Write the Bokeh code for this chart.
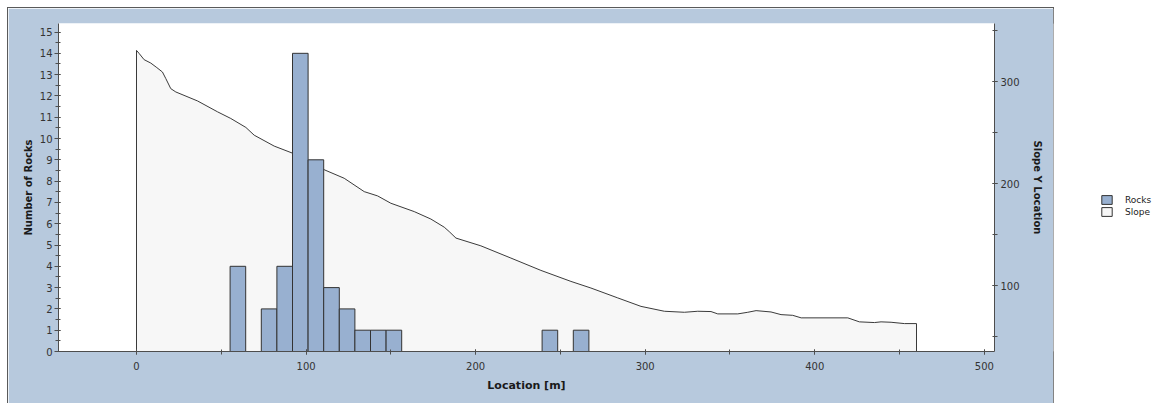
from bokeh.plotting import figure
from bokeh.models import Range1d, LinearAxis, SingleIntervalTicker, Legend, LegendItem, Spacer
from bokeh.layouts import row, column
from bokeh.embed import file_html
from bokeh.resources import INLINE

# ---- data ----
slope_x = [0, 1.5, 4.5, 8.4, 12, 15.3, 17.3, 20.2, 23.2, 36, 47.8, 55.6, 64.5, 69.4, 81.2, 92.4,
           111.1, 122.5, 134.3, 142.2, 150, 163.8, 173.6, 181.5, 184.4, 188.4, 203.1, 220.8, 238.5,
           256.2, 268, 283.8, 297.5, 311.3, 323.1, 331, 338.8, 342.8, 354.6, 360.5, 365.4, 374.2,
           380.1, 387, 392, 419.5, 426.3, 435.2, 439.1, 445, 452.9, 460]
slope_y = [330.9, 328, 321.8, 318.5, 314, 309.7, 303.2, 293.4, 290.1, 281.3, 270.6, 264.1, 255.3, 247.7,
           237, 229.8, 213.5, 205.4, 192.3, 188.1, 180.9, 172.7, 165.4, 157.4, 153.1, 146.7, 139.1, 127.1,
           115, 104.2, 97.7, 88, 79.7, 74.9, 73.9, 74.9, 74.6, 72.3, 72.3, 73.9, 75.5, 74.2,
           71.6, 70.9, 68.4, 68.4, 64.5, 63.8, 64.5, 64.1, 62.8, 62.8]

bin_width = 9.2
bin_left = [55.2, 73.6, 82.8, 92.0, 101.2, 110.4, 119.6, 128.8, 138.0, 147.2, 239.2, 257.6]
rock_counts = [4, 2, 4, 14, 9, 3, 2, 1, 1, 1, 1, 1]

x_lo, x_hi = -46, 506
count_lo, count_hi = 0, 15.4
slope_lo, slope_hi = 35.4, 357.3

# ---- style ----
PANEL = "#b7c9dd"
BAR = "#98b0d0"
SLOPE_FILL = "#f7f7f7"
DARK = "#333333"
AXIS = "#4d4d4d"
FONT = "DejaVu Sans"

p = figure(width=1045, height=395, x_range=Range1d(x_lo, x_hi), y_range=Range1d(count_lo, count_hi),
           output_backend="svg", toolbar_location=None,
           min_border_left=50, min_border_right=59, min_border_top=15, min_border_bottom=52,
           border_fill_color=PANEL, background_fill_color="white", outline_line_color=None)
p.styles = {"outline": "1px solid #5a5a5a"}
p.extra_y_ranges = {"slope": Range1d(slope_lo, slope_hi)}
p.xgrid.visible = False
p.ygrid.visible = False

# slope profile
px = [slope_x[0]] + slope_x + [slope_x[-1]]
py = [slope_lo] + slope_y + [slope_lo]
p.patch(px, py, fill_color=SLOPE_FILL, line_color="#3a3a3a", line_width=1, y_range_name="slope")

# rocks histogram
bin_right = [b + bin_width for b in bin_left]
p.quad(left=bin_left, right=bin_right, bottom=0, top=rock_counts,
       fill_color=BAR, line_color=DARK, line_width=1)

def style_axis(ax):
    ax.axis_line_color = AXIS
    ax.major_tick_line_color = AXIS
    ax.minor_tick_line_color = AXIS
    ax.major_label_text_font = FONT
    ax.major_label_text_font_size = "10px"
    ax.major_label_text_color = "#333333"
    ax.axis_label_text_font = FONT
    ax.axis_label_text_font_style = "bold"
    ax.axis_label_text_color = "#1a1a1a"

# bottom axis
xa = p.xaxis[0]
xa.ticker = SingleIntervalTicker(interval=100, num_minor_ticks=2)
xa.axis_label = "Location [m]"
style_axis(xa)
xa.axis_label_text_font_size = "11px"
xa.major_tick_in = 2
xa.major_tick_out = 3
xa.minor_tick_in = 2
xa.minor_tick_out = 3
xa.major_label_standoff = 7
xa.axis_label_standoff = 6

# left axis
ya = p.yaxis[0]
ya.ticker = SingleIntervalTicker(interval=1, num_minor_ticks=2)
ya.axis_label = "Number of Rocks"
style_axis(ya)
ya.axis_label_text_font_size = "10px"
ya.major_tick_in = 2
ya.major_tick_out = 4
ya.minor_tick_in = 2
ya.minor_tick_out = 3
ya.major_label_standoff = 2
ya.axis_label_standoff = 3

# right axis
ra = LinearAxis(y_range_name="slope", axis_label="Slope Y Location",
                ticker=SingleIntervalTicker(interval=100, num_minor_ticks=2))
style_axis(ra)
ra.axis_label_text_font_size = "10px"
ra.major_tick_in = 2
ra.major_tick_out = 3
ra.minor_tick_in = 2
ra.minor_tick_out = 3
ra.major_label_standoff = 3
ra.axis_label_standoff = 9
p.add_layout(ra, "right")

# legend panel (renderers hold the same data, but lie outside this panel's visible range)
p2 = figure(width=103, height=395, x_range=Range1d(0, 1), y_range=Range1d(-2, -1),
            output_backend="svg", toolbar_location=None, x_axis_type=None, y_axis_type=None,
            min_border=0, outline_line_color=None, background_fill_color="white",
            border_fill_color="white")
p2.xgrid.visible = False
p2.ygrid.visible = False
r1 = p2.quad(left=bin_left, right=bin_right, top=rock_counts, bottom=0,
             fill_color=BAR, line_color=DARK)
r2 = p2.patch(px, py, fill_color=SLOPE_FILL, line_color=DARK)
leg = Legend(items=[LegendItem(label="Rocks", renderers=[r1]), LegendItem(label="Slope", renderers=[r2])],
             location=(47, 134), glyph_width=13, glyph_height=11, label_height=11,
             label_text_font=FONT, label_text_font_size="9px", label_text_color="#222222",
             label_standoff=12, spacing=1, padding=0, margin=0,
             border_line_color=None, background_fill_alpha=0)
p2.add_layout(leg, "center")

layout = column(Spacer(height=8), row(Spacer(width=8), p, p2))
open("out.html", "w").write(file_html(layout, INLINE))
